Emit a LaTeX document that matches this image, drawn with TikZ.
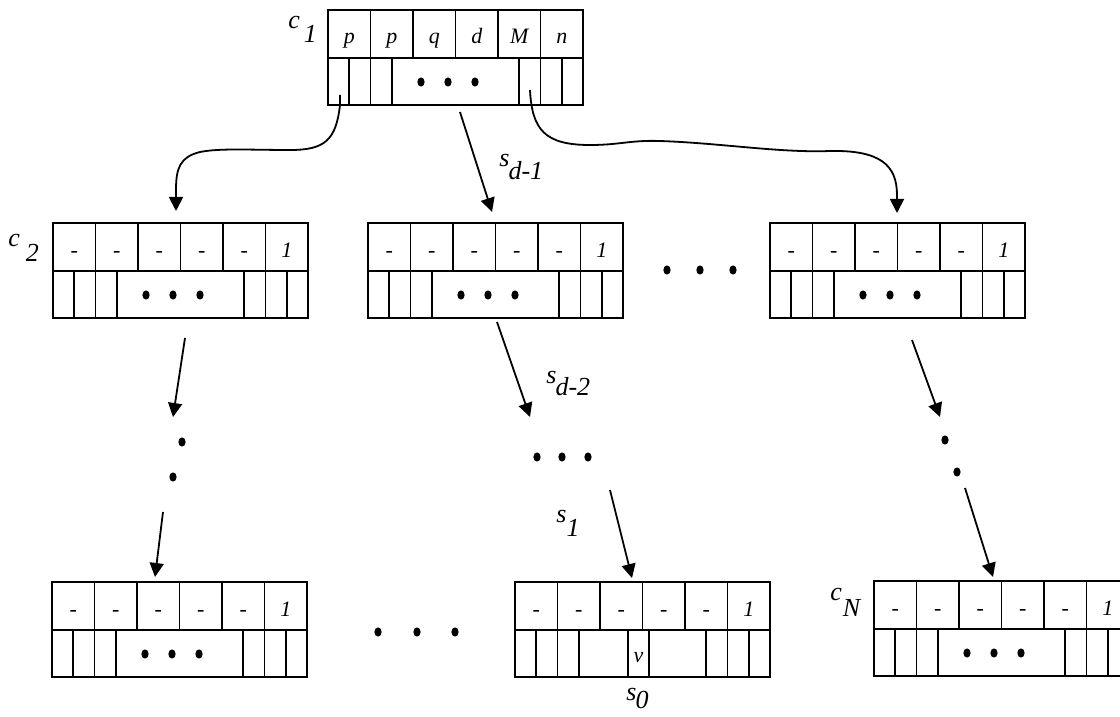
\documentclass[tikz,border=0pt]{standalone}
\usepackage{fontspec}
\setmainfont{Liberation Serif}
\usetikzlibrary{arrows.meta,calc,shapes.geometric}
\tikzset{
 rec/.style={draw, line width=0.9pt, rectangle, minimum width=127.5pt, minimum height=47.5pt, inner sep=0pt, outer sep=0pt},
 celltxt/.style={font=\fontsize{11}{12}\selectfont\itshape, anchor=base, inner sep=0pt},
 dotmark/.style={ellipse, fill=black, draw=none, minimum width=3.6pt, minimum height=4.6pt, inner sep=0pt},
 lab/.style={font=\fontsize{13}{14}\selectfont\itshape, anchor=base west, inner sep=0pt},
 arr/.style={line width=0.9pt, -{Triangle[length=7pt,width=7pt]}},
}
\newcommand{\recbox}[5]{%
  \node[rec] (#1) at (#2+127.5,#3+47.5) {};
  \begin{scope}[shift={(#2,#3)}, line width=0.9pt]
    \draw (0,48) -- (255,48);
    \foreach \t [count=\i] in {#4} {%
      \ifnum\i<6 \draw (42.5*\i,0) -- (42.5*\i,48);\fi
      \node[celltxt] (#1-t\i) at (42.5*\i-21.25,34) {\t};
    }
    \edef\tmplist{#5}%
    \foreach \h in \tmplist {\draw (\h,48) -- (\h,95);}
  \end{scope}}
\newcommand{\recdots}[1]{%
  \node[dotmark] (#1-d1) at ($(#1.north west)+(93,72)$) {};
  \node[dotmark] (#1-d2) at ($(#1.north west)+(120,72)$) {};
  \node[dotmark] (#1-d3) at ($(#1.north west)+(147,72)$) {};}
\def\stdlines{21.25,42.5,63.75,191.25,212.5,233.75}
\begin{document}
\begin{tikzpicture}[x=0.5pt,y=-0.5pt]
\useasboundingbox (0,0) rectangle (1120,717);
\clip (0,0) rectangle (1120,717);
% records
\recbox{c1}{328}{10}{p,p,q,d,M,n}{\stdlines}\recdots{c1}
\recbox{c2}{53}{223}{-,-,-,-,-,1}{\stdlines}\recdots{c2}
\recbox{m2}{368}{223}{-,-,-,-,-,1}{\stdlines}\recdots{m2}
\recbox{r2}{770}{223}{-,-,-,-,-,1}{\stdlines}\recdots{r2}
\recbox{bl}{52}{582}{-,-,-,-,-,1}{\stdlines}\recdots{bl}
\recbox{bm}{515}{582}{-,-,-,-,-,1}{21.25,42.5,63.75,113,134,191.25,212.5,233.75}
\node[celltxt] (bm-v) at ($(bm.north west)+(123.5,80)$) {v};
\recbox{br}{874}{581}{-,-,-,-,-,1}{\stdlines}\recdots{br}
% labels
\node[lab] (lc1) at (288,29) {c\kern2pt\raisebox{-7pt}{1}};
\node[lab] (lc2) at (8,246) {c\kern3pt\raisebox{-8pt}{2}};
\node[lab] (lcN) at (830,600) {c\kern0.5pt\raisebox{-8pt}{N}};
\node[lab] (ls1) at (499,167) {s\kern-0.5pt\raisebox{-6pt}{d-1}};
\node[lab] (ls2) at (546,383) {s\kern-0.5pt\raisebox{-6pt}{d-2}};
\node[lab] (ls3) at (556,522) {s\kern0pt\raisebox{-7pt}{1}};
\node[lab] (ls4) at (626,700) {s\kern-0.5pt\raisebox{-4pt}{0}};
% ellipsis dots
\node[dotmark] (v1a) at (182,442) {};
\node[dotmark] (v1b) at (173,477) {};
\node[dotmark] (h2a) at (537,457) {};
\node[dotmark] (h2b) at (562,457) {};
\node[dotmark] (h2c) at (588,457) {};
\node[dotmark] (v3a) at (945,440) {};
\node[dotmark] (v3b) at (957,472) {};
\node[dotmark] (hm1) at (667,270) {};
\node[dotmark] (hm2) at (700,270) {};
\node[dotmark] (hm3) at (733,270) {};
\node[dotmark] (hb1) at (378,632) {};
\node[dotmark] (hb2) at (417,632) {};
\node[dotmark] (hb3) at (455,632) {};
% connector ends
\coordinate (c1a) at ($(c1.south west)+(12,-10)$);
\coordinate (c1b) at ($(c1.south west)+(202,-15)$);
\coordinate (c1c) at ($(c1.south west)+(132,7)$);
\coordinate (c2in) at ($(c2.north west)+(123,-12)$);
\coordinate (m2in) at ($(m2.north west)+(124,-11)$);
\coordinate (r2in) at ($(r2.north west)+(127,-10)$);
% connectors from c1
\draw[arr] (c1a) -- +(0,10) .. controls (336,140) and (325,150) .. (290,150)
   .. controls (250,150) and (220,148) .. (200,152)
   .. controls (180,157) and (176,168) .. (176,190) -- (c2in);
\draw[arr] (c1b) .. controls (532,130) and (545,145) .. (590,145)
   .. controls (620,145) and (630,140) .. (660,141)
   .. controls (720,143) and (780,153) .. (830,151)
   .. controls (880,150) and (897,165) .. (897,195) -- (r2in);
\draw[arr] (c1c) -- (m2in);
% column 1
\draw[arr] ($(c2.south west)+(132,20)$) -- ($(v1a)+(-9,-25)$);
\draw[arr] ($(v1b)+(-10,35)$) -- ($(bl.north west)+(103,-5)$);
% column 2
\draw[arr] ($(m2.south west)+(129,4)$) -- ($(h2a)+(-7,-40)$);
\draw[arr] ($(h2c)+(22,33)$) -- ($(bm.north west)+(117,-4)$);
% column 3
\draw[arr] ($(r2.south west)+(142,22)$) -- ($(v3a)+(-5,-23)$);
\draw[arr] ($(v3b)+(8,16)$) -- ($(br.north west)+(119,-4)$);
\end{tikzpicture}
\end{document}
